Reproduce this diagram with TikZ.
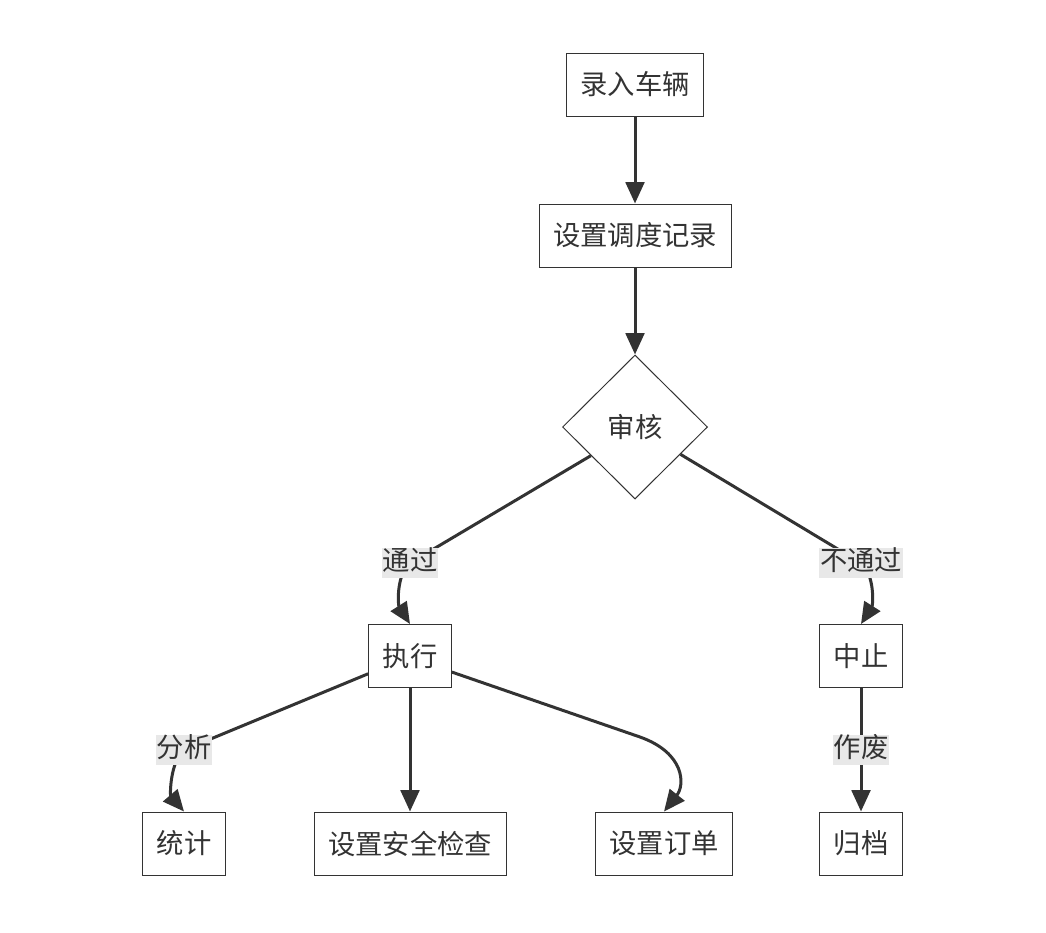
\documentclass[tikz,border=0pt]{standalone}
\usepackage{fontspec}
\setmainfont{Noto Sans CJK SC}
\usepackage{tikz}
\usetikzlibrary{arrows.meta}
\usetikzlibrary{shapes.geometric}
\usetikzlibrary{backgrounds}
\definecolor{dark}{RGB}{51,51,51}
\definecolor{lblgray}{RGB}{232,232,232}

\begin{document}
\begin{tikzpicture}[
            x = 0.75pt, y = -0.75pt, % pixel grid, y pointing down
            > = {Triangle[length=16pt, width=14pt]}, % arrow head style
            font = \fontsize{20.5}{24}\selectfont,
            text = dark
        ]

        \tikzstyle{box}=[
            draw = dark,
            line width = 0.75pt,
            fill = white,
            minimum height = 47.25pt,
            inner xsep = 10.5pt
        ]
        \tikzstyle{decision}=[
            diamond,
            draw = dark,
            line width = 0.75pt,
            fill = white,
            minimum width = 108.75pt,
            minimum height = 108pt,
            inner sep = 0pt
        ]
        \tikzstyle{lbl}=[
            fill = lblgray,
            inner xsep = 0.75pt,
            inner ysep = 1pt,
            text height = 16pt,
            text depth = 4.5pt
        ]
        \tikzstyle{edge}=[->, draw = dark, line width = 2.25pt]

        \useasboundingbox (0,0) rectangle (1046,932);

	% main line
        \node[box] (car) at (635,84.5) {录入车辆};
        \node[box] (plan) at (635,235.5) {设置调度记录};
        \node[decision] (check) at (635,427) {审核};

        % branches
        \node[box] (run) at (410,656) {执行};
        \node[box] (stop) at (861,656) {中止};

        \node[box] (stat) at (184,843.5) {统计};
        \node[box] (safe) at (410,843.5) {设置安全检查};
        \node[box] (order) at (664,843.5) {设置订单};
        \node[box] (file) at (861,843.5) {归档};

        % edge labels
        \node[lbl] (pass) at (410,563) {通过};
        \node[lbl] (fail) at (861,563) {不通过};
        \node[lbl] (ana) at (184,750) {分析};
        \node[lbl] (void) at (861,750) {作废};

          \begin{scope}[on background layer]
          \draw[edge] (car) -- (plan);
          \draw[edge] (plan) -- (check);
          \draw[edge] (check.-147) -- (pass.center) .. controls (396,575) and (398,605) .. (run.north);
          \draw[edge] (check.-31) -- (fail.center) .. controls (875,575) and (873,605) .. (stop.north);
          \draw[edge] (run.-157.5) -- (ana.center) .. controls (170,762) and (170,795) .. (stat.north);
          \draw[edge] (run) -- (safe);
          \draw[edge] (run.-21) -- (640,737) .. controls (685,753) and (685,785) .. (order.north);
          \draw[edge] (stop) -- (void.center) -- (file.north);
          \end{scope}

  \end{tikzpicture}
\end{document}
